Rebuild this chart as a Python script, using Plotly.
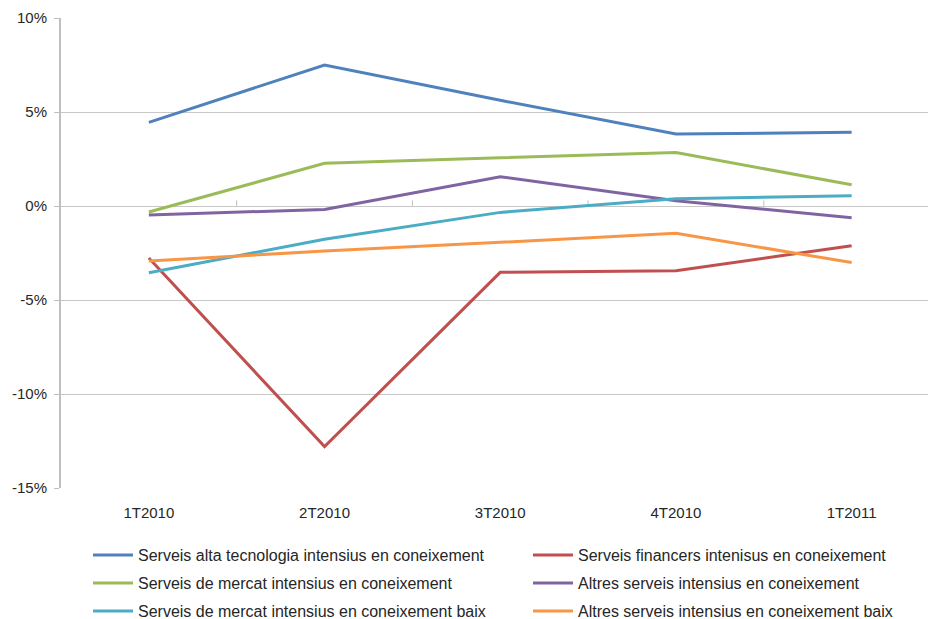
import plotly.graph_objects as go

# Quarterly periods on the category axis
quarters = ["1T2010", "2T2010", "3T2010", "4T2010", "1T2011"]

# Year-on-year change (%) by services group
alta_tecnologia = [4.45, 7.5, 5.62, 3.83, 3.92]
financers = [-2.77, -12.8, -3.53, -3.44, -2.11]
mercat = [-0.32, 2.27, 2.57, 2.84, 1.13]
altres = [-0.48, -0.18, 1.56, 0.28, -0.62]
mercat_baix = [-3.55, -1.77, -0.34, 0.39, 0.55]
altres_baix = [-2.93, -2.4, -1.93, -1.45, -3.01]

y_ticks = [10, 5, 0, -5, -10, -15]
y_tick_text = ["10%", "5%", "0%", "-5%", "-10%", "-15%"]

# name, values, colour, legend column, legend row
series = [
    ("Serveis alta tecnologia intensius en coneixement", alta_tecnologia, "#4F81BD", 0, 0),
    ("Serveis financers intenisus en coneixement", financers, "#C0504D", 1, 0),
    ("Serveis de mercat intensius en coneixement", mercat, "#9BBB59", 0, 1),
    ("Altres serveis intensius en coneixement", altres, "#8064A2", 1, 1),
    ("Serveis de mercat intensius en coneixement baix", mercat_baix, "#4BACC6", 0, 2),
    ("Altres serveis intensius en coneixement baix", altres_baix, "#F79646", 1, 2),
]

FONT = "Liberation Sans, Arial, sans-serif"
TEXT = "#262626"

# legend grid (pixels in the page)
LEG_COL_X = [88, 528]
LEG_ROW_Y = [555, 583, 611]
W, H = 928, 619

fig = go.Figure()
x_idx = list(range(len(quarters)))
legends = {}
for i, (name, vals, color, col, row) in enumerate(series):
    key = "legend" if i == 0 else f"legend{i + 1}"
    fig.add_trace(go.Scatter(
        x=x_idx, y=vals, name=name, mode="lines",
        line=dict(color=color, width=3),
        legend=key,
    ))
    legends[key] = dict(
        orientation="h", xanchor="left", yanchor="middle",
        xref="container", yref="container",
        x=LEG_COL_X[col] / W, y=1 - LEG_ROW_Y[row] / H,
        itemwidth=40,
        font=dict(family=FONT, size=16, color=TEXT),
        bgcolor="rgba(0,0,0,0)", itemclick=False,
    )

# small category-boundary ticks on the zero line
for k in range(len(quarters)):
    fig.add_shape(type="line", xref="x", yref="y",
                  x0=k + 0.5, x1=k + 0.5, y0=0, y1=0.3,
                  line=dict(color="#BFBFBF", width=1), layer="below")

fig.update_layout(
    width=W, height=H,
    margin=dict(l=61, r=0, t=17.5, b=130.7, autoexpand=False),
    paper_bgcolor="white", plot_bgcolor="white",
    font=dict(family=FONT, size=15, color=TEXT),
    showlegend=True,
    xaxis=dict(
        range=[-0.5, -0.5 + (928 - 61) / 175.7],
        tickmode="array", tickvals=x_idx, ticktext=quarters,
        showgrid=False, zeroline=False, showline=False,
        ticks="", ticklabelstandoff=14,
        tickfont=dict(family=FONT, size=15, color=TEXT),
    ),
    yaxis=dict(
        range=[-15, 10],
        tickmode="array", tickvals=y_ticks, ticktext=y_tick_text,
        showgrid=True, gridcolor="#C8C8C8", gridwidth=1,
        zeroline=False,
        showline=True, linecolor="#BFBFBF", linewidth=2,
        ticks="outside", ticklen=5, tickcolor="#BFBFBF",
        ticklabelstandoff=4,
        tickfont=dict(family=FONT, size=15, color=TEXT),
    ),
)
fig.update_layout(**legends)

fig.write_html("out.html")
